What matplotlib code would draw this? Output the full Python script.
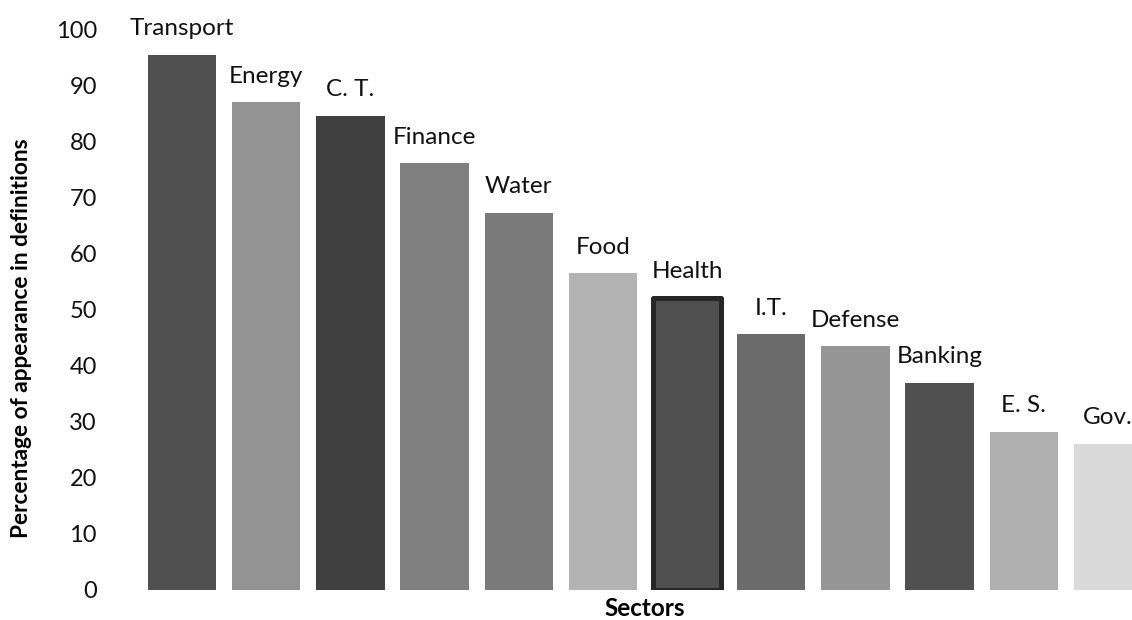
import matplotlib
matplotlib.use('Agg')
import matplotlib.pyplot as plt

sectors = ["Transport", "Energy", "C. T.", "Finance", "Water", "Food",
           "Health", "I.T.", "Defense", "Banking", "E. S.", "Gov."]
values = [95.6, 87.1, 84.7, 76.2, 67.4, 56.6, 52.2, 45.7, 43.5, 37.0, 28.3, 26.1]
colors = ["#505050", "#939393", "#404040", "#808080", "#7a7a7a", "#b3b3b3",
          "#505050", "#6b6b6b", "#959595", "#505050", "#b0b0b0", "#d9d9d9"]

plt.rcParams['font.family'] = ['Lato', 'DejaVu Sans']

W, H = 1132, 620
fig = plt.figure(figsize=(W / 100, H / 100), dpi=100)
# axes spills past the right edge, like the cropped original
ax = fig.add_axes([140 / W, 30 / H, 1010 / W, 560 / H])

x = list(range(len(sectors)))
bars = ax.bar(x, values, width=0.81, color=colors, linewidth=0)

# highlighted Health bar
hb = bars[sectors.index("Health")]
hb.set_edgecolor("#262626")
hb.set_linewidth(3.6)
hb.set_joinstyle("round")

for i, v in enumerate(values):
    ax.annotate(sectors[i], (i, v), xytext=(0, 14), textcoords="offset points",
                ha="center", va="baseline", fontsize=17.5, color="#111111",
                annotation_clip=False)

ax.set_xlim(-0.5, len(sectors) - 0.5)
ax.set_ylim(0, 100)
ax.set_yticks(range(0, 101, 10))
ax.set_xticks([])
ax.tick_params(axis="y", length=0, pad=31, labelsize=17, labelcolor="#111111")
for s in ax.spines.values():
    s.set_visible(False)

ax.set_xlabel("Sectors", fontsize=17.5, fontweight="bold", labelpad=5)
ax.set_ylabel("Percentage of appearance in definitions", fontsize=16.3,
              fontweight="bold")
ax.yaxis.set_label_coords(-108 / 1010, 0.45)

fig.savefig("out.png", dpi=100)
